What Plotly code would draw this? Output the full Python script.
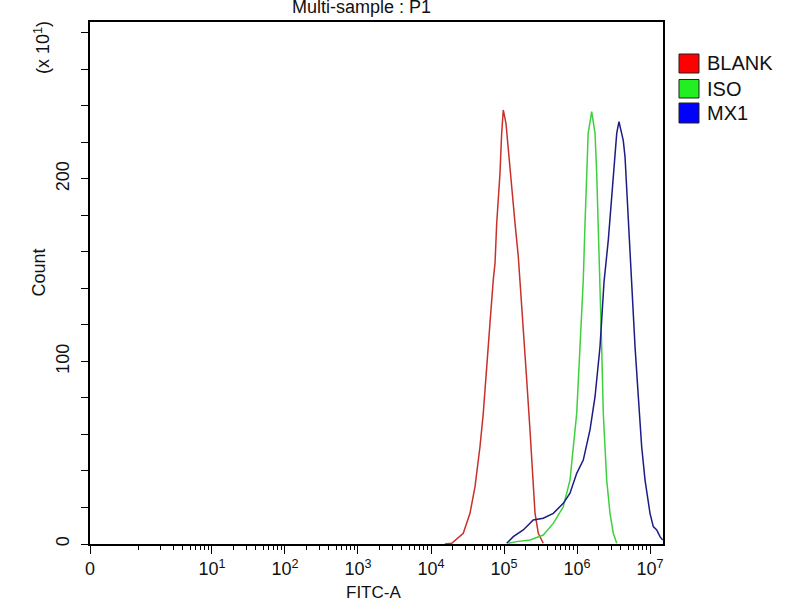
import plotly.graph_objects as go

# log10(FITC-A) positions and counts (x10^1)
blank_log = [4.19, 4.284, 4.442, 4.534, 4.603, 4.671, 4.716, 4.763, 4.808, 4.853, 4.877, 4.900, 4.945,
             4.968, 4.990, 5.027, 5.059, 5.105, 5.151, 5.196, 5.219, 5.264, 5.311, 5.356, 5.401,
             5.425, 5.470, 5.538]
blank_cnt = [0, 0.4, 5.9, 16.8, 31.4, 53.3, 71.6, 99, 121, 144.7, 153.8, 175.7, 203,
             225, 237.8, 230.5, 215.9, 194, 175.7, 157.4, 144.7, 117, 90, 62.5, 35,
             16.8, 5.9, 0.4]

iso_log = [5.059, 5.174, 5.356, 5.538, 5.675, 5.812, 5.904, 5.949, 5.996, 6.041, 6.086, 6.110,
           6.133, 6.153, 6.201, 6.247, 6.270, 6.292, 6.315, 6.338, 6.360, 6.407, 6.452,
           6.497, 6.544]
iso_cnt = [0.4, 1.3, 2.2, 4.9, 11.3, 20.4, 35, 53.3, 71.6, 108, 144.7, 175.7,
           203, 225, 236.9, 225, 203, 175.7, 144.7, 108, 71.6, 35, 16.8,
           5.9, 0.4]

mx1_log = [5.037, 5.127, 5.264, 5.401, 5.538, 5.675, 5.812, 5.904, 5.996, 6.086, 6.178, 6.247,
           6.315, 6.370, 6.429, 6.475, 6.497, 6.544, 6.575, 6.634, 6.658, 6.681, 6.703,
           6.726, 6.749, 6.795, 6.840, 6.886, 6.932, 7.000, 7.045, 7.092, 7.137, 7.174]
mx1_cnt = [0.4, 4, 7.7, 13.2, 14.1, 16.8, 22.3, 27.8, 38.7, 46, 62.5, 80.7,
           108, 143.5, 166.6, 188.5, 203, 225, 231.4, 221, 212, 194, 175.7,
           157.4, 143, 108, 80.7, 53.3, 35, 16.8, 9.5, 7.7, 4, 2.2]

series_names = ["BLANK", "ISO", "MX1"]
line_colors = ["#c8302a", "#3fd03f", "#1c1c84"]
legend_colors = ["#ff0000", "#22ee22", "#0000ff"]

x_min_log = -0.671
x_max_log = 7.178
x_tick_labels = ["0", "10<sup>1</sup>", "10<sup>2</sup>", "10<sup>3</sup>", "10<sup>4</sup>",
                 "10<sup>5</sup>", "10<sup>6</sup>", "10<sup>7</sup>"]
y_major = [0, 100, 200]
y_max = 286

FONT = "Liberation Sans, Arial, sans-serif"

fig = go.Figure()
for name, lx, cnt, col in zip(series_names, [blank_log, iso_log, mx1_log],
                              [blank_cnt, iso_cnt, mx1_cnt], line_colors):
    fig.add_trace(go.Scatter(x=[10 ** v for v in lx], y=cnt, mode="lines",
                             line=dict(color=col, width=1.5), showlegend=False, name=name))

x_tickvals = [10 ** x_min_log] + [10 ** d for d in range(1, 8)]
minor_vals = [1] + [m * 10 ** d for d in range(0, 7) for m in range(2, 10)]
y_tickvals = list(range(0, 281, 20))
y_ticktext = [str(v) if v in y_major else "" for v in y_tickvals]

fig.update_layout(
    width=800, height=600,
    margin=dict(l=90, r=137, t=22, b=56),
    paper_bgcolor="white", plot_bgcolor="white",
    font=dict(family=FONT, size=18, color="#111111"),
    showlegend=False,
    xaxis=dict(type="log", range=[x_min_log, x_max_log],
               tickmode="array", tickvals=x_tickvals, ticktext=x_tick_labels,
               ticks="outside", ticklen=8, tickwidth=1.3, tickcolor="black",
               minor=dict(tickmode="array", tickvals=minor_vals, ticks="outside",
                          ticklen=4, tickwidth=1, tickcolor="black", showgrid=False),
               showline=True, linecolor="black", linewidth=1.5, mirror=True,
               showgrid=False, zeroline=False, tickfont=dict(size=18)),
    yaxis=dict(range=[0, y_max], tickmode="array", tickvals=y_tickvals, ticktext=y_ticktext,
               ticks="outside", ticklen=7, tickwidth=1.3, tickcolor="black", tickangle=-90,
               ticklabelstandoff=5,
               showline=True, linecolor="black", linewidth=1.5, mirror=True,
               showgrid=False, zeroline=False, tickfont=dict(size=18)),
)

# legend: coloured squares with labels to the right of the plot
legend_rows = [(0.9387, 0.9023), (0.8899, 0.8544), (0.8448, 0.8065)]
for name, col, (y1, y0) in zip(series_names, legend_colors, legend_rows):
    fig.add_shape(type="rect", xref="paper", yref="paper", x0=1.0279, x1=1.0628, y0=y0, y1=y1,
                  fillcolor=col, line=dict(color="#222222", width=1))
    fig.add_annotation(text=name, xref="paper", yref="paper", x=1.0733, y=(y0 + y1) / 2,
                       showarrow=False, font=dict(size=20), xanchor="left", yanchor="middle")

fig.add_annotation(text="Multi-sample : P1", xref="paper", yref="paper", x=0.474, y=1.0,
                   yshift=15, showarrow=False, font=dict(size=18), xanchor="center", yanchor="middle")
fig.add_annotation(text="FITC-A", xref="paper", yref="paper", x=0.494, y=0, yshift=-48,
                   showarrow=False, font=dict(size=17), xanchor="center", yanchor="middle")
fig.add_annotation(text="Count", xref="paper", yref="paper", x=0, xshift=-51, y=0.52,
                   textangle=-90, showarrow=False, font=dict(size=18), xanchor="center", yanchor="middle")
fig.add_annotation(text="(x 10<sup>1</sup>)", xref="paper", yref="paper", x=0, xshift=-48, y=0.950,
                   textangle=-90, showarrow=False, font=dict(size=18), xanchor="center", yanchor="middle")

fig.write_html("out.html", config={"displayModeBar": False},
               post_script="document.body.style.margin='0';")
